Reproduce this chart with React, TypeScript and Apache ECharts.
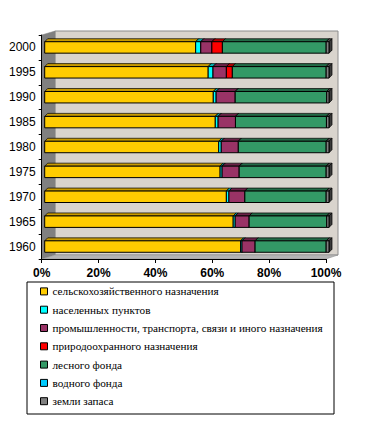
import React, { useEffect, useRef } from "react";
import * as echarts from "echarts";

const years = ["1960", "1965", "1970", "1975", "1980", "1985", "1990", "1995", "2000"];
const xTicks = [0, 20, 40, 60, 80, 100];

const seriesNames = [
  "сельскохозяйственного назначения",
  "населенных пунктов",
  "промышленности, транспорта, связи и иного назначения",
  "природоохранного назначения",
  "лесного фонда",
  "водного фонда",
  "земли запаса",
];

const agri = [68.9, 66.3, 63.9, 61.7, 61.2, 60.0, 59.3, 57.5, 53.1];
const settle = [0.5, 0.7, 0.9, 0.7, 0.9, 1.0, 1.0, 1.7, 1.8];
const industry = [4.6, 4.9, 5.6, 6.0, 6.0, 6.1, 6.7, 4.7, 3.9];
const protect = [0, 0, 0, 0, 0, 0, 0, 2.1, 3.7];
const forest = [25.0, 27.3, 28.6, 30.6, 30.9, 32.0, 32.2, 33.0, 36.5];
const water = [0, 0, 0, 0, 0, 0, 0, 0, 0];
const reserve = [1.0, 0.8, 1.0, 1.0, 1.0, 0.9, 0.8, 1.0, 1.0];

const seriesValues = [agri, settle, industry, protect, forest, water, reserve];

const colors = ["#FFCC00", "#00FFFF", "#993366", "#FF0000", "#339966", "#00CCFF", "#808080"];
const topColors = ["#C89B00", "#00B0B0", "#6B2347", "#B00000", "#236B47", "#0090B0", "#505050"];
const sideColors = ["#A07C00", "#008C8C", "#4F1A35", "#8C0000", "#1A4F35", "#006C8C", "#3A3A3A"];

const OX = 3;
const OY = 0;
const D = 3;

export default function App() {
  const ref = useRef<HTMLDivElement>(null);
  useEffect(() => {
    if (!ref.current) return;
    const chart = echarts.init(ref.current, null, { renderer: "svg" });

    const cum = years.map(() => 0);
    const series: any[] = seriesValues.map((vals, si) => {
      const data = vals.map((v, ci) => {
        const s = cum[ci];
        cum[ci] += v;
        return [s, s + v, ci];
      });
      return {
        type: "custom",
        name: seriesNames[si],
        itemStyle: { color: colors[si] },
        encode: { x: [0, 1], y: 2 },
        data,
        z: 10,
        renderItem: (params: any, api: any) => {
          const s = api.value(0);
          const e = api.value(1);
          const c = api.value(2);
          if (e - s <= 0.001) return null;
          const p0 = api.coord([s, c]);
          const p1 = api.coord([e, c]);
          const band = api.size([0, 1])[1];
          const h = band * 0.46;
          const x0 = p0[0] + OX;
          const x1 = p1[0] + OX;
          const y0 = p0[1] - h / 2 + OY;
          const y1 = y0 + h;
          return {
            type: "group",
            children: [
              {
                type: "polygon",
                shape: { points: [[x0, y0], [x0 + D, y0 - D], [x1 + D, y0 - D], [x1, y0]] },
                style: { fill: topColors[si], stroke: "#000", lineWidth: 0.7 },
              },
              {
                type: "polygon",
                shape: { points: [[x1, y0], [x1 + D, y0 - D], [x1 + D, y1 - D], [x1, y1]] },
                style: { fill: sideColors[si], stroke: "#000", lineWidth: 0.7 },
              },
              {
                type: "rect",
                shape: { x: x0, y: y0, width: x1 - x0, height: h },
                style: { fill: colors[si], stroke: "#000", lineWidth: 1 },
              },
            ],
          };
        },
      };
    });

    chart.setOption({
      animation: false,
      backgroundColor: "#ffffff",
      color: colors,
      grid: { left: 41.7, top: 35, width: 284.3, height: 224, containLabel: false },
      xAxis: {
        type: "value",
        min: xTicks[0],
        max: xTicks[xTicks.length - 1],
        interval: 20,
        axisLine: { show: true, lineStyle: { color: "#000", width: 1 } },
        axisTick: { show: true, length: 4, lineStyle: { color: "#000" } },
        splitLine: { show: false },
        axisLabel: {
          formatter: "{value}%",
          fontFamily: "Liberation Sans",
          fontSize: 12,
          fontWeight: "bold",
          color: "#000",
          margin: 8,
        },
      },
      yAxis: {
        type: "category",
        data: years,
        axisLine: { show: true, lineStyle: { color: "#000", width: 1 } },
        axisTick: { show: true, length: 3, lineStyle: { color: "#000" } },
        axisLabel: {
          fontFamily: "Liberation Sans",
          fontSize: 12,
          color: "#000",
          margin: 6,
        },
      },
      legend: {
        orient: "vertical",
        left: 35,
        top: 280.4,
        itemWidth: 7,
        itemHeight: 7,
        itemGap: 6.3,
        icon: "rect",
        selectedMode: false,
        itemStyle: { borderColor: "#000", borderWidth: 1 },
        textStyle: { fontFamily: "Liberation Serif", fontSize: 11.2, color: "#000", lineHeight: 12 },
        data: seriesNames,
      },
      graphic: [
        {
          type: "rect",
          z: -10,
          shape: { x: 55, y: 31, width: 283, height: 224 },
          style: { fill: "#d9d4cd", stroke: "#8c8c8c", lineWidth: 1 },
          silent: true,
        },
        {
          type: "polygon",
          z: -9,
          shape: { points: [[41.7, 35], [55, 31], [55, 255], [41.7, 259]] },
          style: { fill: "#808080", stroke: "#808080", lineWidth: 0.5 },
          silent: true,
        },
        {
          type: "polygon",
          z: -9,
          shape: { points: [[41.7, 259], [55, 255], [338, 255], [326, 259]] },
          style: { fill: "#b4b4b4", stroke: "#8c8c8c", lineWidth: 0.5 },
          silent: true,
        },
        {
          type: "rect",
          z: -8,
          shape: { x: 27, y: 282, width: 307, height: 132 },
          style: { fill: "none", stroke: "#000", lineWidth: 1 },
          silent: true,
        },
      ],
      series,
    });
    return () => chart.dispose();
  }, []);
  return (
    <div
      ref={ref}
      style={{ position: "fixed", left: 0, top: 0, width: 375, height: 442 }}
    />
  );
}
